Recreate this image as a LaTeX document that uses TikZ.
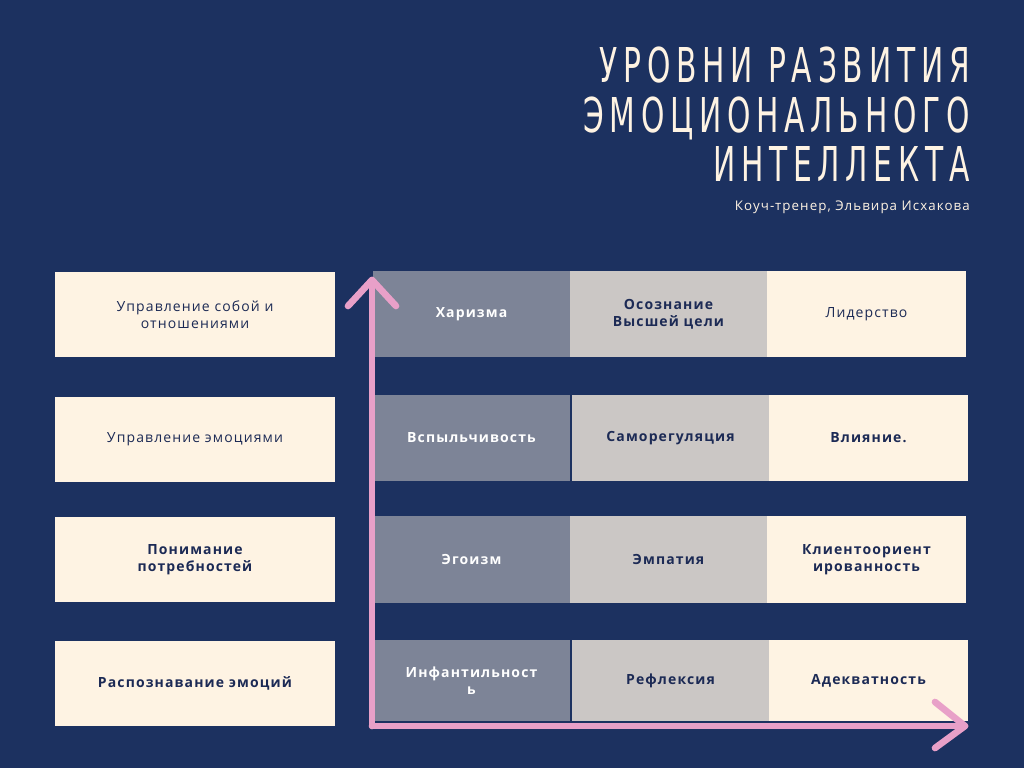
\documentclass[tikz,border=0pt]{standalone}
\usepackage{fontspec}
\setmainfont{Open Sans}[LetterSpace=8]
\newfontfamily\titlefont{DejaVu Sans}[FakeStretch=0.62,LetterSpace=12]
\definecolor{bg}{HTML}{1C3160}
\definecolor{cream}{HTML}{FEF3E3}
\definecolor{dg}{HTML}{7D8497}
\definecolor{lg}{HTML}{CBC7C5}
\definecolor{pk}{HTML}{E8A0C8}
\definecolor{ink}{HTML}{1C2A55}
\begin{document}
\begin{tikzpicture}[x=0.75pt,y=-0.75pt,
 cell/.style={inner sep=0pt,align=center,font=\fontsize{10.5}{13}\selectfont,text=ink},
 arr/.style={pk,line width=5pt,line cap=round,line join=round}]
\fill[bg] (0,0) rectangle (1024,768);
\useasboundingbox (0,0) rectangle (1024,768);
\node[text=cream,anchor=north east,align=right,inner sep=0pt,font=\titlefont\fontsize{36}{37}\selectfont] (t) at (970,47) {УРОВНИ РАЗВИТИЯ\\ЭМОЦИОНАЛЬНОГО\\ИНТЕЛЛЕКТА};
\node[anchor=east,text=cream,inner sep=0pt,font=\fontsize{10}{12}\selectfont] (s) at (970,207) {Коуч-тренер, Эльвира Исхакова};
% left column
\newcommand\cbox[7]{\fill[#5] (#1,#2) rectangle (#3,#4); \node[cell,text=#6] at ({(#1+#3)/2},{(#2+#4)/2}) {#7};}
\cbox{55}{272}{335}{357}{cream}{ink}{Управление собой и\\отношениями}
\cbox{55}{397}{335}{482}{cream}{ink}{Управление эмоциями}
\cbox{55}{517}{335}{602}{cream}{ink}{\bfseries Понимание\\\bfseries потребностей}
\cbox{55}{641}{335}{726}{cream}{ink}{\bfseries Распознавание эмоций}
\cbox{373}{271}{570}{357}{dg}{white}{\bfseries Харизма}
\cbox{570}{271}{767}{357}{lg}{ink}{\bfseries Осознание\\\bfseries Высшей цели}
\cbox{767}{271}{966}{357}{cream}{ink}{Лидерство}
\cbox{373}{395}{570}{481}{dg}{white}{\bfseries Вспыльчивость}
\cbox{572}{395}{769}{481}{lg}{ink}{\bfseries Саморегуляция}
\cbox{769}{395}{968}{481}{cream}{ink}{\bfseries Влияние.}
\cbox{373}{516}{570}{603}{dg}{white}{\bfseries Эгоизм}
\cbox{570}{516}{767}{603}{lg}{ink}{\bfseries Эмпатия}
\cbox{767}{516}{966}{603}{cream}{ink}{\bfseries Клиентоориент\\\bfseries ированность}
\cbox{373}{640}{570}{721}{dg}{white}{\bfseries Инфантильност\\\bfseries ь}
\cbox{572}{640}{769}{721}{lg}{ink}{\bfseries Рефлексия}
\cbox{769}{640}{968}{721}{cream}{ink}{\bfseries Адекватность}
% axes
\coordinate (o) at (372,726);
\coordinate (ytop) at (372,280);
\coordinate (xend) at (965,726);
\draw[arr] (o) -- (ytop);
\draw[arr] (348,306) -- (ytop) -- (396,306);
\draw[arr] (o) -- (xend);
\draw[arr] (935,702) -- (xend) -- (935,748);
\end{tikzpicture}
\end{document}
